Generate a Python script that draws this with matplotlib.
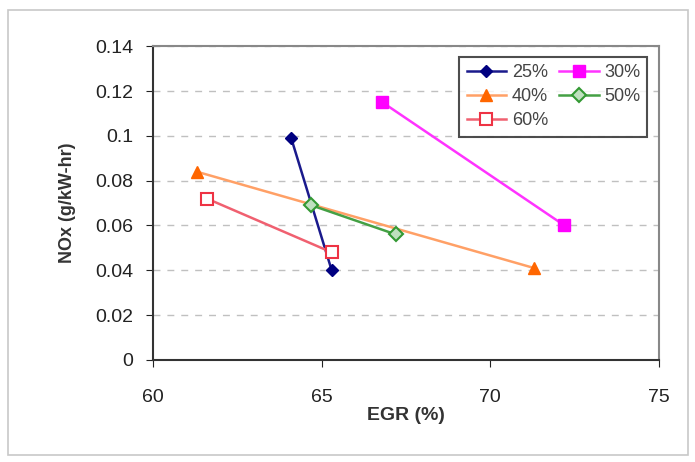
import matplotlib.pyplot as plt
from matplotlib.patches import Rectangle

plt.rcParams['font.family'] = ['Liberation Sans', 'DejaVu Sans']
plt.rcParams['font.size'] = 12

# Данные: EGR (%) и NOx (g/kW-hr) для каждой нагрузки
labels = ['25%', '30%', '40%', '50%', '60%']
egr_25 = [64.1, 65.3]
nox_25 = [0.099, 0.040]
egr_30 = [66.8, 72.2]
nox_30 = [0.115, 0.060]
egr_40 = [61.3, 71.3]
nox_40 = [0.084, 0.041]
egr_50 = [64.7, 67.2]
nox_50 = [0.069, 0.056]
egr_60 = [61.6, 65.3]
nox_60 = [0.072, 0.048]

fig = plt.figure(figsize=(6.95, 4.62), dpi=100)
ax = fig.add_axes([0.220, 0.221, 0.728, 0.679])

# рамка вокруг всей диаграммы
fig.patches.append(Rectangle((0.012, 0.015), 0.978, 0.963, transform=fig.transFigure,
                             fill=False, edgecolor='#c8c8c8', linewidth=1.2))

l25, = ax.plot(egr_25, nox_25, color='#1a1a8c', marker='D', markersize=6, linewidth=1.8,
               markerfacecolor='#000080', markeredgecolor='#000080', label=labels[0])
l30, = ax.plot(egr_30, nox_30, color='#ff33ff', marker='s', markersize=8, linewidth=1.8,
               markerfacecolor='#ff00ff', markeredgecolor='#ff00ff', label=labels[1])
l40, = ax.plot(egr_40, nox_40, color='#ffa066', marker='^', markersize=8, linewidth=1.8,
               markerfacecolor='#ff6600', markeredgecolor='#ff6600', label=labels[2])
l50, = ax.plot(egr_50, nox_50, color='#44a044', marker='D', markersize=7, linewidth=1.8,
               markerfacecolor='#bfe0bf', markeredgecolor='#339933', markeredgewidth=1.5,
               label=labels[3])
l60, = ax.plot(egr_60, nox_60, color='#f06070', marker='s', markersize=8, linewidth=1.8,
               markerfacecolor='white', markeredgecolor='#ee3344', markeredgewidth=1.5,
               label=labels[4])

ax.set_xlim(60, 75)
ax.set_ylim(0, 0.14)
ax.set_xticks([60, 65, 70, 75])
ax.set_yticks([0, 0.02, 0.04, 0.06, 0.08, 0.1, 0.12, 0.14])
ax.set_yticklabels(['0', '0.02', '0.04', '0.06', '0.08', '0.1', '0.12', '0.14'])
ax.tick_params(axis='both', labelsize=14, colors='#222222', direction='out', length=5)
ax.tick_params(axis='x', pad=16)
ax.tick_params(axis='y', pad=9)

ax.yaxis.grid(True, linestyle=(0, (5, 5)), color='#c0c0c0', linewidth=1)
ax.set_axisbelow(True)

ax.spines['left'].set_color('#333333')
ax.spines['bottom'].set_color('#333333')
ax.spines['left'].set_linewidth(1.5)
ax.spines['bottom'].set_linewidth(1.5)
ax.spines['top'].set_color('#888888')
ax.spines['right'].set_color('#888888')
ax.spines['top'].set_linewidth(1.5)
ax.spines['right'].set_linewidth(1.5)

ax.set_xlabel('EGR (%)', fontsize=14, fontweight='bold', color='#333333', labelpad=1)
ax.set_ylabel('NOx (g/kW-hr)', fontsize=13, fontweight='bold', color='#333333', labelpad=14)

# порядок в легенде по строкам: 25%, 30% / 40%, 50% / 60%
handles = [l25, l40, l60, l30, l50]
leg = ax.legend(handles=handles, labels=[h.get_label() for h in handles], ncol=2,
                loc='upper right', bbox_to_anchor=(0.995, 0.995), fontsize=13,
                frameon=True, fancybox=False, edgecolor='#222222', handlelength=2.2,
                columnspacing=0.6, handletextpad=0.3, labelspacing=0.4, borderpad=0.4,
                labelcolor='#444444')
leg.get_frame().set_linewidth(1.5)

plt.savefig('out.png', dpi=100)
